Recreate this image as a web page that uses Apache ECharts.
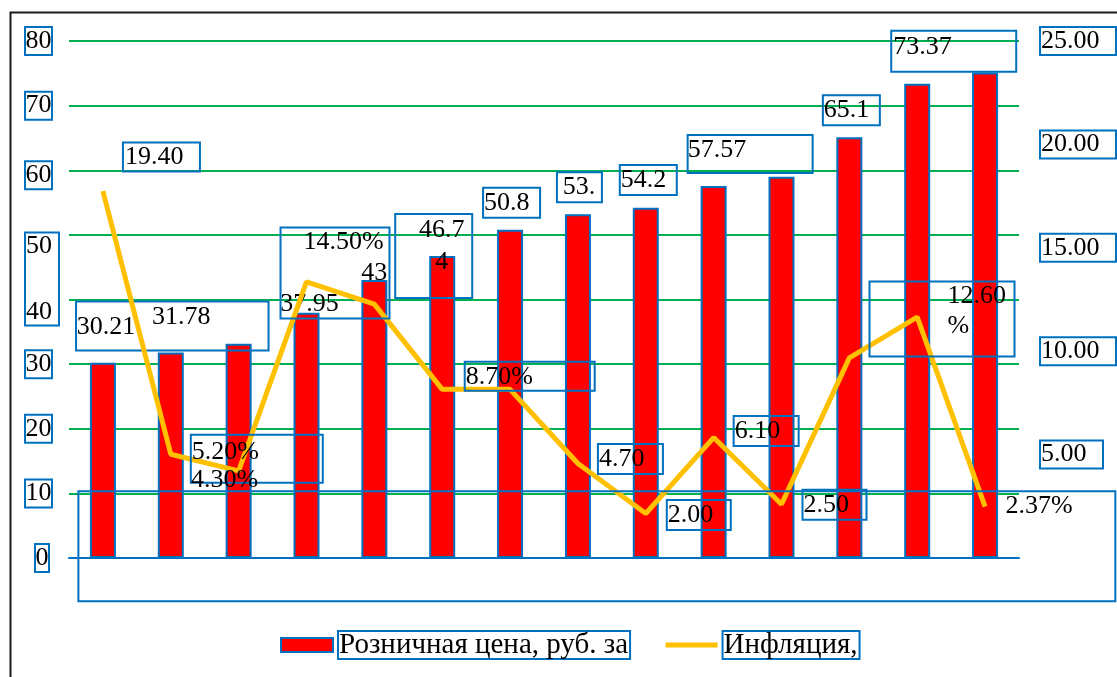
<!DOCTYPE html>
<html>
<head>
<meta charset="utf-8">
<script src="https://cdn.jsdelivr.net/npm/echarts@6/dist/echarts.min.js"></script>
<style>
html,body{margin:0;padding:0;background:#fff;}
#chart{width:1117px;height:677px;}
</style>
</head>
<body>
<div id="chart"></div>
<script>
// ---- data ----
const categories = ['1','2','3','4','5','6','7','8','9','10','11','12','13','14'];
const retailPrice = [30.21, 31.78, 33.15, 37.95, 43, 46.74, 50.8, 53.2, 54.2, 57.57, 59.01, 65.1, 73.37, 75.11];
const inflation = [19.40, 5.20, 4.30, 14.50, 13.30, 8.70, 8.70, 4.70, 2.00, 6.10, 2.50, 10.40, 12.60, 2.37];
const inflationSuffix = ['', '%', '%', '%', '', '%', '%', '', '', '', '', '', '%', '%'];
const leftTicks = ['0', '10', '20', '30', '40', '50', '60', '70', '80'];
const rightTicks = ['', '5.00', '10.00', '15.00', '20.00', '25.00'];
const seriesNames = ['Розничная цена, руб. за', 'Инфляция,'];

// ---- styles ----
const FONT = 'Liberation Serif';
const BLUE = '#0070C0';
const GREEN = '#00B050';
const YELLOW = '#FFC000';
const box = {borderColor: BLUE, borderWidth: 2};

const barLabelStyles = [
  {position: 'top', distance: 0, offset: [3, -22]},
  Object.assign({position: 'top', distance: 2, offset: [1.5, 0], padding: [2, 58, 19, 76]}, box),
  {show: false},
  {position: 'top', distance: 0, offset: [3, 5]},
  {position: 'top', distance: 0, offset: [0, 7]},
  Object.assign({position: 'top', distance: 0, offset: [-8.5, 42], width: 47, overflow: 'breakAll', lineHeight: 32, padding: [0, 7, 20, 23]}, box),
  Object.assign({position: 'top', distance: 12, offset: [1.5, 0], padding: [1, 10.5, 1, 1]}, box),
  Object.assign({position: 'top', distance: 12, offset: [1.5, 0], width: 42, overflow: 'truncate', ellipsis: '', padding: [1, 2, 1, 1]}, box),
  Object.assign({position: 'top', distance: 12.7, offset: [2.5, 0], padding: [1, 10.5, 1, 1]}, box),
  Object.assign({position: 'top', distance: 13, offset: [36.5, 0], padding: [1, 66.5, 9, 0]}, box),
  {show: false},
  Object.assign({position: 'top', distance: 12, offset: [2, 0], padding: [1, 10.5, 1, 1]}, box),
  Object.assign({position: 'top', distance: 12, offset: [36.5, 0], padding: [2, 64.5, 11, 2]}, box),
  {show: false}
];

const lineLabelStyles = [
  Object.assign({offset: [58.5, -19], padding: [1, 16.5, 0, 2]}, box),
  Object.assign({offset: [86, 29], padding: [3, 63.8, 17, 1]}, box),
  {offset: [-14, 24]},
  Object.assign({offset: [28.5, 37], padding: [1, 5.8, 62, 23]}, box),
  {show: false},
  Object.assign({offset: [87.5, 2], padding: [1, 61.8, 0, 1]}, box),
  {show: false},
  Object.assign({offset: [52.5, 11], padding: [1, 18.5, 1, 1]}, box),
  Object.assign({offset: [53, 17], padding: [1, 17.5, 1, 1]}, box),
  Object.assign({offset: [52.5, 9], padding: [1, 18.5, 1, 1]}, box),
  Object.assign({offset: [53, 16], padding: [1, 17.5, 1, 1]}, box),
  {show: false},
  Object.assign({offset: [-47.7, 40], align: 'left', width: 60, overflow: 'breakAll', lineHeight: 30, padding: [0, 7, 15, 78]}, box),
  Object.assign({offset: [-388.2, 95], padding: [1, 42.8, 81, 927]}, box)
];

const txt = {fontFamily: FONT, fontSize: 26, lineHeight: 28, color: '#000'};

const leftRich = {
  std: Object.assign({padding: [1, 0.5, 1, 0.5]}, box, txt),
  tall: Object.assign({padding: [1, 7, 66, 1]}, box, txt),
  plain: Object.assign({padding: [1, 1, 1, 1]}, txt),
  sp88: {height: 88, lineHeight: 88, width: 1, fontSize: 1},
  sp26: {height: 26, lineHeight: 26, width: 1, fontSize: 1},
  sp10: {height: 10, lineHeight: 10, width: 1, fontSize: 1},
  pre: {width: 10, fontSize: 1}
};

function leftFormatter(v) {
  const t = leftTicks[Math.round(v / 10)];
  if (v === 0) return '{pre| }{std|' + t + '}';
  if (v === 50) return '{sp88| }\n{tall|' + t + '}';
  if (v === 40) return '{sp26| }\n{plain|' + t + '}';
  if (v === 60) return '{sp10| }\n{std|' + t + '}';
  return '{std|' + t + '}';
}

function rightFormatter(v) {
  const t = rightTicks[Math.round(v / 5)];
  if (!t) return '';
  return '{r|' + t + '}';
}

const chart = echarts.init(document.getElementById('chart'), null, {renderer: 'canvas'});
chart.setOption({
  animation: false,
  textStyle: {fontFamily: FONT},
  graphic: [{
    type: 'rect', left: 8, top: 10, z: 100, silent: true,
    shape: {x: 0, y: 0, width: 1300, height: 800},
    style: {fill: 'none', stroke: '#1a1a1a', lineWidth: 2}
  }],
  grid: {left: 69, right: 98, top: 41, bottom: 119, containLabel: false, outerBoundsMode: 'none'},
  legend: {
    left: 280, top: 630, padding: 0,
    itemWidth: 52, itemHeight: 14, itemGap: 32,
    textStyle: Object.assign({fontFamily: FONT, fontSize: 29, lineHeight: 27, color: '#000', padding: [1, 2, 0, 1]}, box),
    data: [
      {name: seriesNames[0], icon: 'rect', itemStyle: {color: '#FF0000', borderColor: BLUE, borderWidth: 2}},
      {name: seriesNames[1], lineStyle: {color: YELLOW, width: 5}, itemStyle: {color: 'rgba(0,0,0,0)', borderWidth: 0}}
    ]
  },
  xAxis: {
    type: 'category', data: categories, boundaryGap: true,
    axisLine: {show: true, lineStyle: {color: BLUE, width: 2}},
    axisTick: {show: false}, axisLabel: {show: false}, splitLine: {show: false}
  },
  yAxis: [{
    type: 'value', min: 0, max: 80, interval: 10, position: 'left',
    axisLine: {show: false}, axisTick: {show: false},
    splitLine: {show: true, lineStyle: {color: GREEN, width: 2}},
    axisLabel: {align: 'left', margin: 44, formatter: leftFormatter, rich: leftRich, fontFamily: FONT, fontSize: 26, color: '#000'}
  }, {
    type: 'value', min: 0, max: 25, interval: 5, position: 'right',
    axisLine: {show: false}, axisTick: {show: false}, splitLine: {show: false},
    axisLabel: {margin: 21, formatter: rightFormatter, fontFamily: FONT, fontSize: 26, color: '#000',
      rich: {r: Object.assign({padding: [1, 16.5, 1, 1]}, box, txt)}}
  }, {
    type: 'value', min: -0.4, max: 27.5, show: false,
    axisLine: {show: false}, axisTick: {show: false}, splitLine: {show: false}, axisLabel: {show: false}
  }],
  series: [{
    name: seriesNames[0], type: 'bar', yAxisIndex: 0, barWidth: 26,
    itemStyle: {color: '#FF0000', borderColor: BLUE, borderWidth: 2},
    label: Object.assign({show: true, formatter: p => String(p.value)}, txt),
    emphasis: {disabled: true},
    data: retailPrice.map((v, i) => ({value: v, label: barLabelStyles[i]}))
  }, {
    name: seriesNames[1], type: 'line', yAxisIndex: 2, z: 3,
    symbol: 'circle', symbolSize: 1, showSymbol: true,
    itemStyle: {color: 'rgba(255,192,0,0)'},
    lineStyle: {color: YELLOW, width: 5},
    label: Object.assign({show: true, position: 'top', distance: 0, formatter: p => p.value.toFixed(2) + inflationSuffix[p.dataIndex]}, txt),
    emphasis: {disabled: true},
    data: inflation.map((v, i) => ({value: v, label: lineLabelStyles[i]}))
  }]
});
</script>
</body>
</html>
